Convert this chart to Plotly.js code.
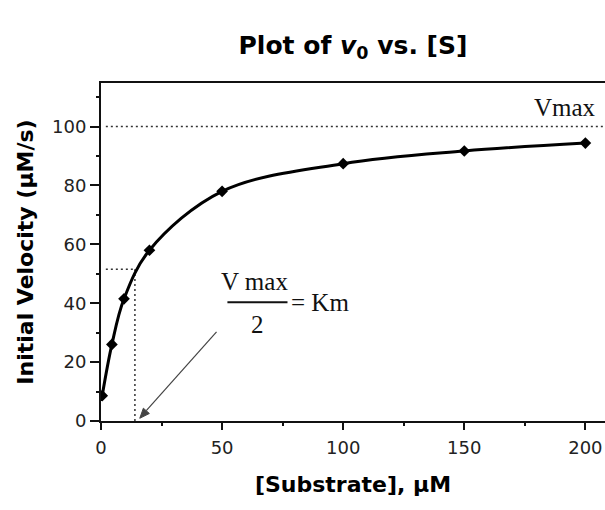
<!DOCTYPE html>
<html>
<head>
<meta charset="utf-8">
<script src="https://cdn.plot.ly/plotly-3.0.1.min.js"></script>
<style>
  html, body { margin: 0; padding: 0; background: #fff; }
  #chart { width: 605px; height: 510px; }
</style>
</head>
<body>
<div id="chart"></div>
<script>
// Michaelis-Menten saturation data: substrate concentration (µM) vs. initial velocity (µM/s)
const substrate = [0.5, 4.5, 9.5, 20, 50, 100, 150, 200];
const velocity  = [8.6, 26, 41.5, 58, 78, 87.4, 91.7, 94.4];

// Kinetic constants marked on the chart
const vmax = 100;
const halfVmax = 51.5;
const km = 14;

// Axis ticks
const xTicks = [0, 50, 100, 150, 200];
const xMinorTicks = [25, 75, 125, 175];
const yTicks = [0, 20, 40, 60, 80, 100];
const yMinorTicks = [10, 30, 50, 70, 90, 110];

const xMax = 208.1;
const yMax = 114.8;

const sans = 'DejaVu Sans';
const serif = 'Liberation Serif';
const ink = '#111';

const trace = {
  x: substrate,
  y: velocity,
  type: 'scatter',
  mode: 'lines+markers',
  line: { shape: 'spline', smoothing: 1, width: 3, color: '#000' },
  marker: { symbol: 'diamond', size: 9, color: '#000' },
  hoverinfo: 'x+y',
  showlegend: false
};

const dotted = { color: '#333', width: 1.5, dash: '2px,3px' };
const arrowInk = '#444';

const layout = {
  width: 605,
  height: 510,
  margin: { l: 101, r: 0, t: 83, b: 89 },
  paper_bgcolor: '#fff',
  plot_bgcolor: '#fff',
  title: {
    text: 'Plot of <i>v</i><sub>0</sub> vs. [S]',
    font: { family: sans, size: 25, weight: 'bold', color: '#000' },
    x: 0.5, xref: 'paper', xanchor: 'center',
    y: 0.912, yref: 'container', yanchor: 'middle'
  },
  xaxis: {
    range: [0, xMax],
    tickmode: 'array',
    tickvals: xTicks,
    ticktext: xTicks.map(String),
    ticks: 'outside', ticklen: 7, tickwidth: 1.5, tickcolor: ink,
    ticklabelstandoff: 2,
    minor: { tickmode: 'array', tickvals: xMinorTicks, ticks: 'outside', ticklen: 3, tickwidth: 1.5, tickcolor: ink, showgrid: false },
    showline: true, linewidth: 2, linecolor: ink, mirror: true,
    showgrid: false, zeroline: false,
    tickfont: { family: sans, size: 18, color: '#222' },
    title: {
      text: '[Substrate], µM',
      font: { family: sans, size: 22, weight: 'bold', color: '#000' },
      standoff: 20
    }
  },
  yaxis: {
    range: [0, yMax],
    tickmode: 'array',
    tickvals: yTicks,
    ticktext: yTicks.map(String),
    ticks: 'outside', ticklen: 9, tickwidth: 1.5, tickcolor: ink,
    minor: { tickmode: 'array', tickvals: yMinorTicks, ticks: 'outside', ticklen: 3, tickwidth: 1.5, tickcolor: ink, showgrid: false },
    showline: true, linewidth: 2, linecolor: ink, mirror: false,
    showgrid: false, zeroline: false,
    tickfont: { family: sans, size: 18, color: '#222' },
    title: {
      text: 'Initial Velocity (µM/s)',
      font: { family: sans, size: 22, weight: 'bold', color: '#000' },
      standoff: 12
    }
  },
  shapes: [
    // Vmax asymptote
    { type: 'line', xref: 'x', yref: 'y', x0: 2, x1: xMax, y0: vmax, y1: vmax, line: dotted, layer: 'below' },
    // Km drop line and the Vmax/2 level
    { type: 'line', xref: 'x', yref: 'y', x0: km, x1: km, y0: 0, y1: halfVmax, line: dotted, layer: 'below' },
    { type: 'line', xref: 'x', yref: 'y', x0: 2, x1: km, y0: halfVmax, y1: halfVmax, line: dotted, layer: 'below' },
    // fraction bar of Vmax / 2
    { type: 'line', xref: 'x', yref: 'y', x0: 52.2, x1: 77, y0: 40.3, y1: 40.3, line: { color: '#111', width: 2 } },
    // arrow shaft and head pointing at Km on the substrate axis
    { type: 'line', xref: 'x', yref: 'y', x0: 47.7, y0: 30.3, x1: 18.7, y1: 3.5, line: { color: arrowInk, width: 1.2 } },
    { type: 'path', xref: 'x', yref: 'y', path: 'M 16.0 0.92 L 19.97 2.55 L 17.49 4.35 Z',
      fillcolor: arrowInk, line: { color: arrowInk, width: 1 } }
  ],
  annotations: [
    { text: 'Vmax', xref: 'x', yref: 'y', x: 191.6, y: 106.4, showarrow: false,
      xanchor: 'center', yanchor: 'middle', font: { family: serif, size: 25, color: '#111' } },
    { text: 'V max', xref: 'x', yref: 'y', x: 63.5, y: 47.4, showarrow: false,
      xanchor: 'center', yanchor: 'middle', font: { family: serif, size: 25, color: '#111' } },
    { text: '2', xref: 'x', yref: 'y', x: 64.8, y: 32.8, showarrow: false,
      xanchor: 'center', yanchor: 'middle', font: { family: serif, size: 25, color: '#111' } },
    { text: '= Km', xref: 'x', yref: 'y', x: 77.6, y: 40.3, showarrow: false,
      xanchor: 'left', yanchor: 'middle', font: { family: serif, size: 25, color: '#111' } }
  ]
};

Plotly.newPlot('chart', [trace], layout, { displayModeBar: false, responsive: false });
</script>
</body>
</html>
